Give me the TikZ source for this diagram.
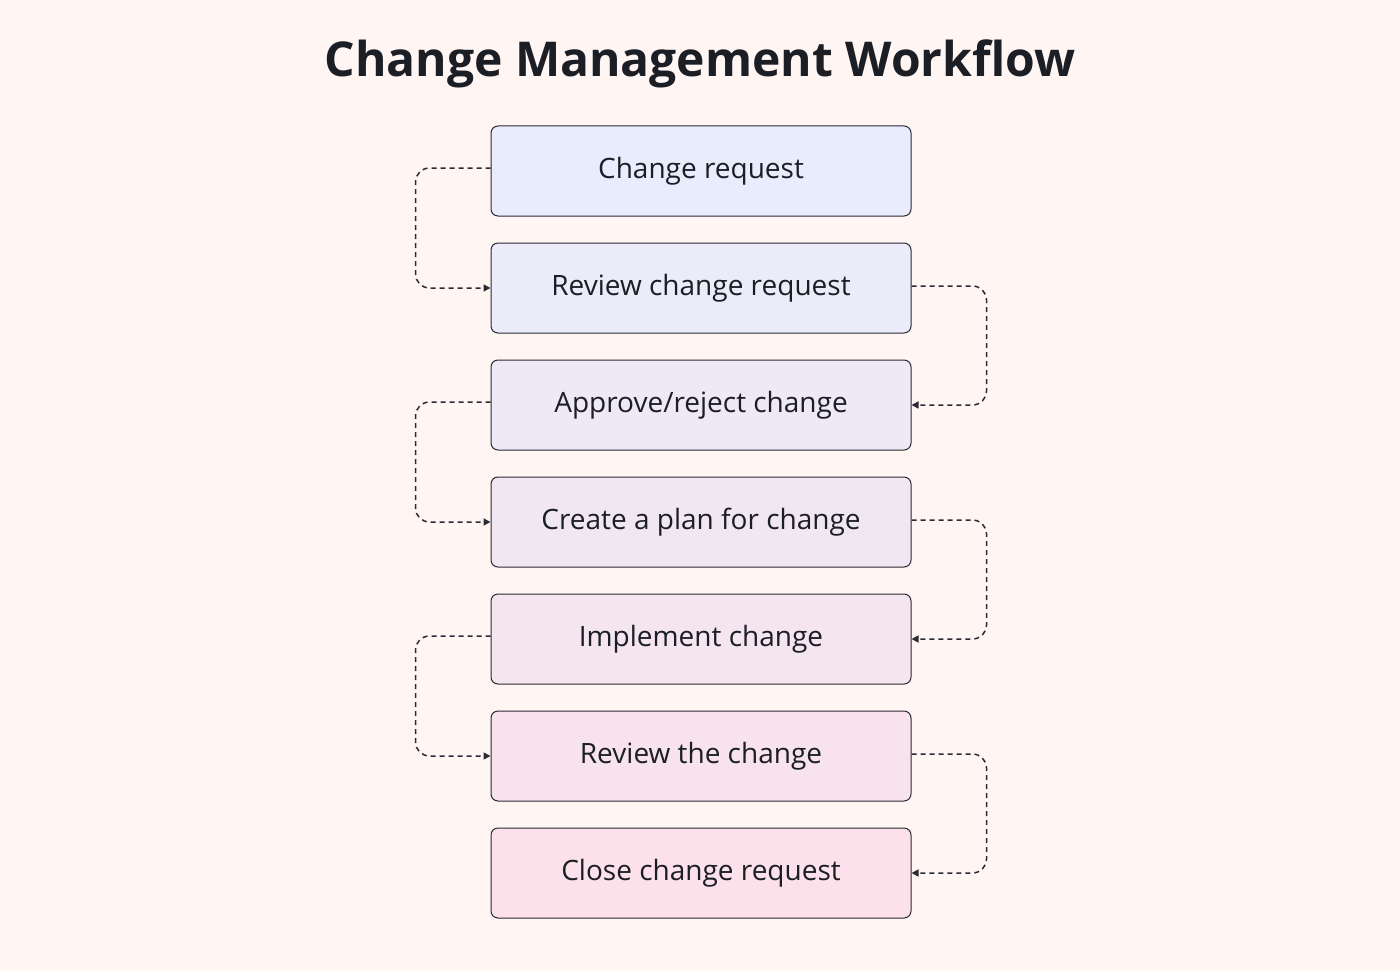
\documentclass[tikz,border=0pt]{standalone}
\usepackage{fontspec}
\setmainfont{Open Sans}
\usetikzlibrary{arrows.meta}
\definecolor{bg}{HTML}{FFF5F3}
\definecolor{edge}{HTML}{2A2A35}
\definecolor{ink}{HTML}{1C1E26}
\tikzset{
  box/.style={draw=edge, line width=1pt, rounded corners=7pt, minimum width=420pt, minimum height=90pt, font=\fontsize{28}{32}\selectfont, text=ink, inner sep=0pt},
  link/.style={draw=edge, line width=1.5pt, dash pattern=on 5pt off 4pt, rounded corners=14pt, -{Triangle[length=7pt,width=7pt]}}
}
\begin{document}
\begin{tikzpicture}[x=1pt,y=-1pt]
\fill[bg] (0,0) rectangle (1400,971);
\useasboundingbox (0,0) rectangle (1400,971);
\node[font=\bfseries\fontsize{48}{54}\selectfont, text=ink] (title) at (700,64) {Change Management Workflow};
\foreach \n/\y/\t/\c in {a/171/Change request/E9ECFC, b/288/Review change request/EBEBF9, c/405/Approve\slash reject change/EEE9F5, d/522/Create a plan for change/F1E7F2, e/639/Implement change/F4E5EF, f/756/Review the change/F8E3ED, g/873/Close change request/FCE0EA}{
  \definecolor{fillc}{HTML}{\c}
  \node[box, fill=fillc] (\n) at (701,\y) {\t};
}
\foreach \s/\d in {a/b,c/d,e/f}{
  \draw[link] ([yshift=3pt]\s.west) -- ++(-75,0) |- (\d.west);
}
\foreach \s/\d in {b/c,d/e,f/g}{
  \draw[link] ([yshift=2pt]\s.east) -- ++(75,0) |- (\d.east);
}
\end{tikzpicture}
\end{document}
